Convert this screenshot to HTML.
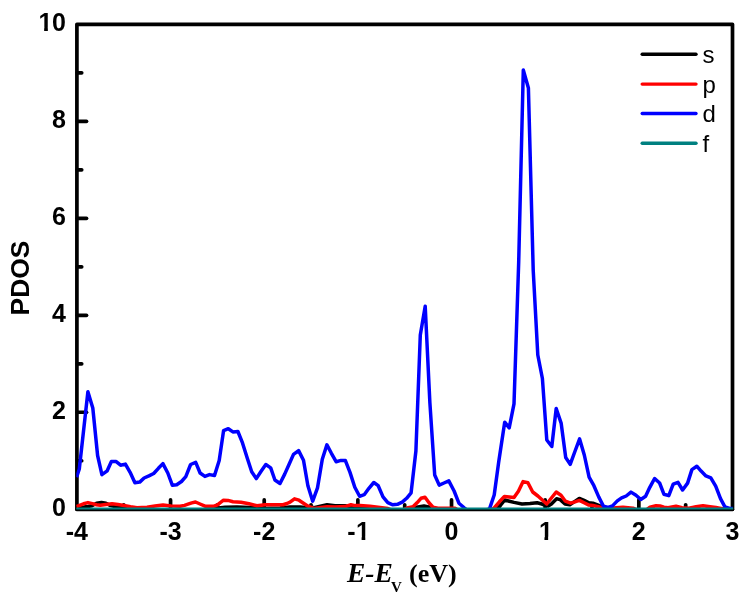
<!DOCTYPE html>
<html lang="en">
<head>
<meta charset="utf-8">
<title>PDOS</title>
<style>
html,body{margin:0;padding:0;background:#fff;}
body{width:751px;height:601px;overflow:hidden;}
svg{display:block;}
.tk{font-family:"Liberation Sans",Arial,Helvetica,sans-serif;font-weight:bold;font-size:25px;fill:#000;}
.lg{font-family:"Liberation Sans",Arial,Helvetica,sans-serif;font-size:24px;fill:#000;}
.xt{font-family:"Liberation Serif","Times New Roman",Times,serif;font-weight:bold;font-size:26px;fill:#000;}
.curve{fill:none;stroke-width:3.5;stroke-linejoin:round;stroke-linecap:butt;}
</style>
</head>
<body>
<svg width="751" height="601" viewBox="0 0 751 601">
<rect x="0" y="0" width="751" height="601" fill="#ffffff"/>

<g stroke="#000" stroke-width="3.7" fill="none" stroke-linecap="round">
<path d="M76.90,509.25 L76.90,24.35 L732.50,24.35 L732.50,509.25" stroke-linejoin="round"/>
<line x1="77.4" y1="460.76" x2="81.7" y2="460.76"/>
<line x1="77.4" y1="412.27" x2="86.5" y2="412.27"/>
<line x1="77.4" y1="363.78" x2="81.7" y2="363.78"/>
<line x1="77.4" y1="315.29" x2="86.5" y2="315.29"/>
<line x1="77.4" y1="266.80" x2="81.7" y2="266.80"/>
<line x1="77.4" y1="218.31" x2="86.5" y2="218.31"/>
<line x1="77.4" y1="169.82" x2="81.7" y2="169.82"/>
<line x1="77.4" y1="121.33" x2="86.5" y2="121.33"/>
<line x1="77.4" y1="72.84" x2="81.7" y2="72.84"/>
<line x1="123.73" y1="508.8" x2="123.73" y2="504.8"/>
<line x1="170.56" y1="508.8" x2="170.56" y2="499.9"/>
<line x1="217.39" y1="508.8" x2="217.39" y2="504.8"/>
<line x1="264.21" y1="508.8" x2="264.21" y2="499.9"/>
<line x1="311.04" y1="508.8" x2="311.04" y2="504.8"/>
<line x1="357.87" y1="508.8" x2="357.87" y2="499.9"/>
<line x1="404.70" y1="508.8" x2="404.70" y2="504.8"/>
<line x1="451.53" y1="508.8" x2="451.53" y2="499.9"/>
<line x1="498.36" y1="508.8" x2="498.36" y2="504.8"/>
<line x1="545.19" y1="508.8" x2="545.19" y2="499.9"/>
<line x1="592.01" y1="508.8" x2="592.01" y2="504.8"/>
<line x1="638.84" y1="508.8" x2="638.84" y2="499.9"/>
<line x1="685.67" y1="508.8" x2="685.67" y2="504.8"/>
</g>
<clipPath id="cp"><rect x="76.3" y="24.4" width="656.9" height="485.1"/></clipPath>
<g clip-path="url(#cp)">
<polyline class="curve" stroke="#000000" points="76.3,507.5 84.0,507.0 88.0,506.5 92.0,505.8 96.5,503.3 101.5,502.6 106.0,503.3 110.5,505.6 115.0,506.6 125.0,507.3 160.0,512.5 200.0,512.5 214.0,508.6 225.0,507.3 237.0,507.0 250.0,507.4 262.0,508.6 280.0,508.0 290.0,507.0 300.0,507.0 308.0,507.8 314.0,507.6 318.3,506.6 322.5,505.6 327.0,504.8 335.0,505.8 345.0,505.8 352.0,506.8 360.0,507.4 380.0,508.6 400.0,512.5 412.0,508.2 418.0,507.0 424.0,506.0 430.0,507.2 436.0,508.6 442.0,512.5 490.0,512.5 498.8,507.8 501.8,503.6 504.8,500.0 509.4,501.2 514.0,502.4 522.0,504.0 530.0,503.6 537.1,502.8 541.9,504.0 545.9,505.5 548.2,506.0 551.4,504.0 556.6,498.8 560.2,499.6 565.0,504.0 569.8,504.8 574.5,501.6 579.3,498.4 584.1,500.4 588.9,502.8 592.9,503.2 600.1,506.0 606.0,508.8 640.0,512.5 733.2,512.5"/>
<polyline class="curve" stroke="#ff0000" points="76.3,506.6 79.0,505.6 83.5,503.8 88.0,502.6 92.5,503.6 96.5,504.7 100.3,505.3 106.0,504.5 112.0,503.8 118.0,504.6 124.0,505.5 130.5,506.7 137.0,507.7 147.0,507.2 155.0,506.1 163.0,505.0 171.0,506.0 180.0,506.2 184.5,505.4 188.0,504.2 191.8,502.9 195.5,502.0 200.0,504.0 205.0,506.2 209.5,506.3 214.0,506.2 217.5,504.8 220.0,502.8 223.5,500.2 228.0,500.4 233.0,501.7 241.0,502.2 249.0,503.7 257.0,505.7 261.0,505.2 265.0,504.7 274.0,504.7 283.0,504.7 287.0,503.5 290.0,502.2 294.5,498.8 299.0,500.2 303.5,503.2 308.0,506.2 314.0,508.4 321.0,507.5 327.0,506.8 335.0,507.0 345.0,506.6 351.0,504.8 355.0,505.6 360.0,505.6 370.0,506.3 380.0,507.5 388.0,508.6 398.0,512.5 407.0,508.0 413.0,506.8 417.0,502.8 421.0,498.3 425.0,497.3 429.0,502.8 433.0,507.2 438.0,508.2 455.0,508.3 462.0,512.5 488.0,512.5 494.0,508.2 499.4,501.8 504.4,496.4 509.2,497.0 514.0,497.6 518.4,491.2 523.1,481.6 527.9,482.8 532.7,492.0 537.9,496.0 542.3,500.0 546.7,504.0 551.4,498.0 556.2,492.0 561.0,495.2 565.4,501.2 570.6,503.2 575.0,501.8 579.3,500.4 584.1,502.8 588.9,505.1 592.9,505.5 600.1,507.1 606.0,508.4 612.0,508.2 616.0,507.8 623.0,507.2 633.0,508.2 643.0,512.5 650.0,507.2 656.0,505.8 660.0,506.0 664.0,507.2 668.0,507.8 676.0,506.3 682.0,507.8 689.0,508.2 696.0,506.8 703.0,505.8 710.0,506.8 716.0,507.6 721.0,508.4 726.0,509.2 733.2,512.5"/>
<polyline class="curve" stroke="#0000ff" points="76.6,477.2 79.3,469.0 87.9,391.7 92.8,408.0 97.6,455.5 101.9,474.7 107.2,470.8 111.4,461.6 116.2,461.6 120.6,465.2 125.4,464.1 130.1,472.3 134.9,482.7 139.7,482.1 144.1,478.0 148.9,475.9 153.7,473.5 158.4,468.3 162.9,463.6 167.8,473.0 172.4,485.3 176.7,484.7 181.5,481.5 185.8,476.7 190.6,464.5 195.7,462.4 200.1,473.0 204.9,476.4 209.5,474.6 214.5,475.5 219.2,460.4 223.6,430.6 228.3,428.7 232.9,431.9 237.9,431.5 242.5,442.9 247.3,458.3 251.7,471.7 256.3,478.6 261.1,471.2 265.8,464.5 270.7,467.9 274.9,480.0 280.0,483.5 284.7,474.1 289.0,464.5 293.5,454.4 298.6,450.6 303.5,460.2 307.9,485.8 312.7,501.2 317.5,487.9 322.3,459.2 326.9,444.8 331.4,453.3 336.1,461.7 341.0,460.4 345.4,460.6 350.0,472.4 354.8,487.3 359.6,496.3 364.2,494.7 368.9,488.3 373.8,482.5 378.2,485.7 383.0,496.9 387.8,502.7 392.8,504.8 397.4,504.3 402.2,502.1 406.6,498.3 411.1,492.8 415.9,451.0 420.3,335.0 425.2,306.2 429.9,403.0 434.7,475.0 439.2,485.1 444.0,483.0 448.8,480.9 454.1,491.0 458.9,503.2 464.2,507.8 470.0,512.5 480.0,512.5 489.6,508.6 494.2,495.0 498.7,462.0 504.7,422.2 509.2,427.9 514.0,403.9 518.7,262.0 523.3,70.0 528.4,88.0 533.2,270.0 537.8,355.0 542.4,378.5 546.8,440.0 551.8,446.5 556.2,408.5 561.2,423.4 565.7,457.5 570.2,464.4 574.9,451.5 579.6,438.9 584.3,455.0 589.1,477.2 593.9,485.7 598.7,496.9 603.5,506.2 608.2,507.5 612.5,505.9 617.3,500.9 621.6,497.9 626.2,496.0 631.0,492.1 636.0,495.3 640.8,499.5 645.6,496.3 649.8,487.3 654.6,478.5 659.6,483.0 663.9,494.2 668.8,495.6 673.2,484.1 678.0,482.3 682.6,490.0 687.6,483.1 691.9,469.6 696.8,466.2 701.1,471.1 705.9,475.9 710.8,477.9 715.7,486.2 720.5,498.6 724.9,506.8 729.7,508.4 732.7,508.6"/>
</g>
<line x1="76.70" y1="509.6" x2="732.70" y2="509.6" stroke="#000" stroke-width="3.2" stroke-linecap="round"/>
<rect x="76.3" y="507.5" width="656.9" height="2.0" fill="#008080"/>
<text class="tk" x="66" y="516.1" text-anchor="end">0</text>
<text class="tk" x="66" y="419.2" text-anchor="end">2</text>
<text class="tk" x="66" y="322.2" text-anchor="end">4</text>
<text class="tk" x="66" y="225.2" text-anchor="end">6</text>
<text class="tk" x="66" y="128.2" text-anchor="end">8</text>
<clipPath id="one0"><rect x="37.10" y="7.25" width="15.5" height="20.60"/><rect x="44.15" y="26.75" width="3.7" height="6"/><rect x="52.50" y="7.25" width="15.00" height="30"/></clipPath>
<text class="tk" x="38.60 52.10" y="31.25" clip-path="url(#one0)">10</text>
<text class="tk" x="76.9" y="540.2" text-anchor="middle">-4</text>
<text class="tk" x="170.6" y="540.2" text-anchor="middle">-3</text>
<text class="tk" x="264.2" y="540.2" text-anchor="middle">-2</text>
<clipPath id="one1"><rect x="347.75" y="516.20" width="8.10" height="30"/><rect x="354.55" y="516.20" width="15.5" height="20.60"/><rect x="361.60" y="535.70" width="3.7" height="6"/></clipPath>
<text class="tk" x="347.35 356.05" y="540.20" clip-path="url(#one1)">-1</text>
<text class="tk" x="451.5" y="540.2" text-anchor="middle">0</text>
<clipPath id="one2"><rect x="537.40" y="516.20" width="15.5" height="20.60"/><rect x="544.45" y="535.70" width="3.7" height="6"/></clipPath>
<text class="tk" x="538.90" y="540.20" clip-path="url(#one2)">1</text>
<text class="tk" x="638.8" y="540.2" text-anchor="middle">2</text>
<text class="tk" x="732.5" y="540.2" text-anchor="middle">3</text>
<text class="tk" style="font-size:26.4px" transform="translate(28.8,278) rotate(-90)" text-anchor="middle">PDOS</text>
<text class="xt" x="347" y="582" style="font-size:27.5px;font-style:italic">E-E</text>
<text class="xt" x="391" y="592" style="font-size:15px">V</text>
<text class="xt" x="409" y="582">(eV)</text>
<line x1="642.2" y1="54.3" x2="696" y2="54.3" stroke="#000000" stroke-width="3.4" stroke-linecap="round"/>
<text class="lg" x="702.5" y="62.8">s</text>
<line x1="642.2" y1="84.1" x2="696" y2="84.1" stroke="#ff0000" stroke-width="3.4" stroke-linecap="round"/>
<text class="lg" x="702.5" y="92.6">p</text>
<line x1="642.2" y1="113.5" x2="696" y2="113.5" stroke="#0000ff" stroke-width="3.4" stroke-linecap="round"/>
<text class="lg" x="702.5" y="122.0">d</text>
<line x1="642.2" y1="143.2" x2="696" y2="143.2" stroke="#008080" stroke-width="3.4" stroke-linecap="round"/>
<text class="lg" x="702.5" y="151.7">f</text>
</svg>
</body>
</html>
